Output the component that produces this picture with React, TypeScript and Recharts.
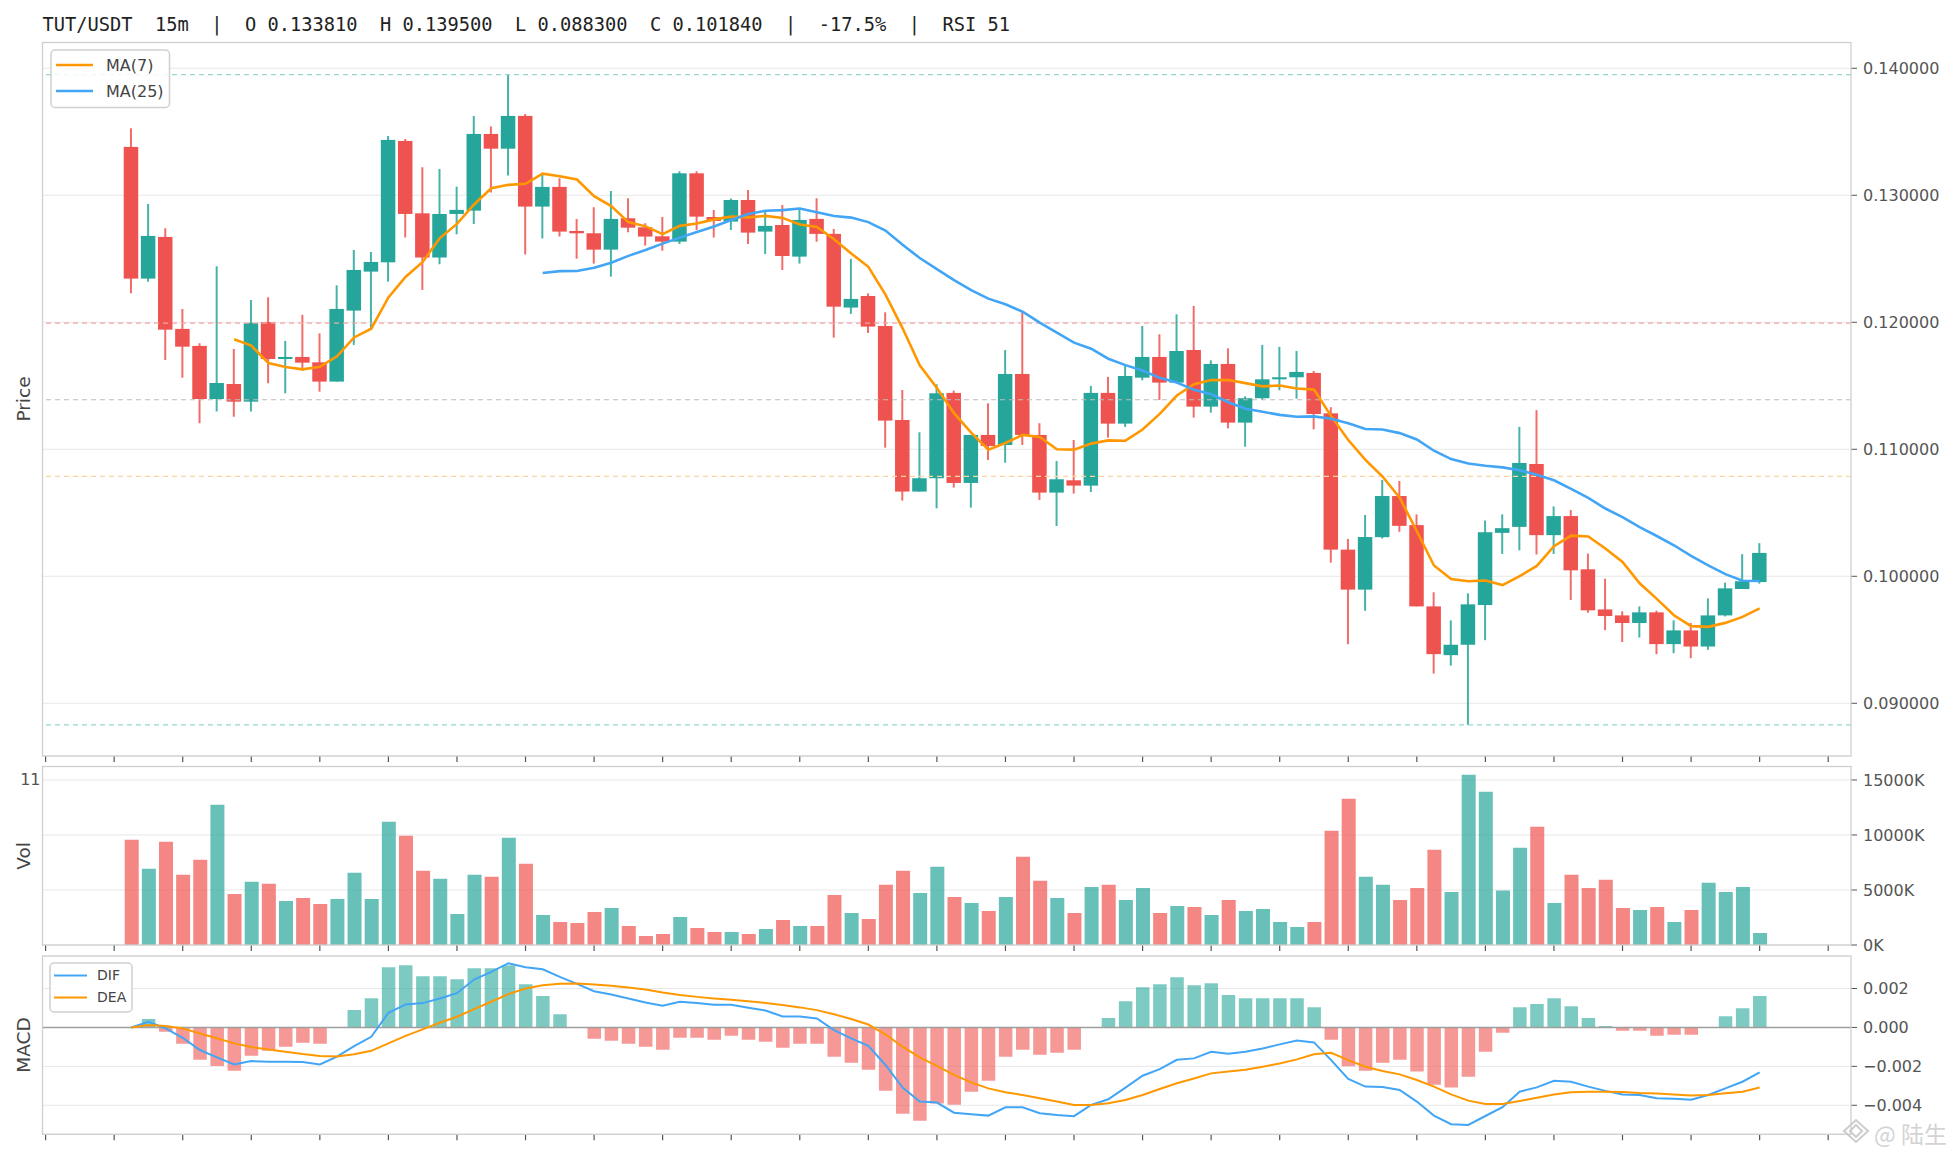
import React from "react";
import { Bar, CartesianGrid, Cell, ComposedChart, Line, ReferenceLine, XAxis, YAxis } from "recharts";

// TUT/USDT 15m candles
const opens = [
  0.13381, 0.12344, 0.12672, 0.11948, 0.11814, 0.11396, 0.11514, 0.11375, 0.12, 0.11711,
  0.11727, 0.11685, 0.11533, 0.12092, 0.12399, 0.12472, 0.13428, 0.12858, 0.1251, 0.12853,
  0.12879, 0.13483, 0.13367, 0.13625, 0.12911, 0.13066, 0.12719, 0.12701, 0.12572, 0.12819,
  0.12748, 0.12677, 0.12635, 0.13173, 0.12829, 0.12793, 0.12963, 0.12714, 0.12766, 0.12517,
  0.12814, 0.12696, 0.12116, 0.12207, 0.11971, 0.11231, 0.10667, 0.10772, 0.11444, 0.10735,
  0.11113, 0.11034, 0.11593, 0.11113, 0.10659, 0.10756, 0.10714, 0.11444, 0.11202, 0.11564,
  0.11727, 0.11525, 0.11782, 0.11336, 0.11672, 0.1121, 0.11402, 0.11551, 0.11567, 0.11601,
  0.11283, 0.1021, 0.09895, 0.10308, 0.10632, 0.10403, 0.09763, 0.09379, 0.09461, 0.09774,
  0.10342, 0.10389, 0.10884, 0.10324, 0.10474, 0.10055, 0.09739, 0.09692, 0.09632, 0.09716,
  0.09466, 0.09574, 0.09447, 0.09692, 0.099, 0.09955,
];
const highs = [
  0.13528, 0.12932, 0.1274, 0.12105, 0.11835, 0.12441, 0.1179, 0.12176, 0.12197, 0.11853,
  0.12058, 0.11913, 0.12291, 0.1257, 0.12554, 0.13467, 0.13444, 0.1322, 0.13207, 0.13068,
  0.13625, 0.13541, 0.1395, 0.1364, 0.13173, 0.13134, 0.12814, 0.12906, 0.13034, 0.12976,
  0.1278, 0.12829, 0.13189, 0.13189, 0.12885, 0.12974, 0.13042, 0.12885, 0.12924, 0.12892,
  0.12976, 0.12735, 0.12499, 0.12228, 0.12079, 0.11467, 0.11134, 0.11512, 0.11462, 0.11113,
  0.11362, 0.11782, 0.12076, 0.11205, 0.10908, 0.11073, 0.11499, 0.1157, 0.11669, 0.11971,
  0.11906, 0.12063, 0.12129, 0.11701, 0.11795, 0.11417, 0.11822, 0.11806, 0.11774, 0.11617,
  0.11331, 0.10294, 0.10483, 0.10758, 0.1075, 0.10487, 0.09874, 0.09653, 0.09866, 0.10439,
  0.10487, 0.11176, 0.11308, 0.1055, 0.10521, 0.10179, 0.09982, 0.09724, 0.09763, 0.09729,
  0.09653, 0.09632, 0.09826, 0.0995, 0.10174, 0.10261,
];
const lows = [
  0.12228, 0.1232, 0.11703, 0.11564, 0.11205, 0.11297, 0.11257, 0.11297, 0.1152, 0.11441,
  0.1162, 0.11454, 0.11533, 0.11822, 0.11953, 0.1232, 0.12667, 0.12255, 0.12457, 0.12693,
  0.12774, 0.13021, 0.13155, 0.12533, 0.12659, 0.12675, 0.12501, 0.12462, 0.1236, 0.12709,
  0.12604, 0.12564, 0.12617, 0.12727, 0.12667, 0.12727, 0.12617, 0.12538, 0.12412, 0.12462,
  0.12635, 0.11879, 0.12066, 0.11916, 0.11013, 0.10596, 0.10667, 0.10535, 0.10698, 0.10541,
  0.10916, 0.10895, 0.11034, 0.10601, 0.10396, 0.10651, 0.10664, 0.11092, 0.11176, 0.11543,
  0.11388, 0.11525, 0.11249, 0.11289, 0.11165, 0.11021, 0.11388, 0.11465, 0.11399, 0.11157,
  0.10108, 0.09465, 0.09728, 0.10297, 0.1035, 0.09763, 0.09234, 0.09297, 0.0883, 0.09497,
  0.10176, 0.10205, 0.10171, 0.10176, 0.09813, 0.09713, 0.09576, 0.09482, 0.09518, 0.09387,
  0.09395, 0.09355, 0.09421, 0.09684, 0.099, 0.09942,
];
const closes = [
  0.12344, 0.1268, 0.11942, 0.11808, 0.11396, 0.11522, 0.11375, 0.11995, 0.11711, 0.11727,
  0.11682, 0.11533, 0.12105, 0.12412, 0.12475, 0.13436, 0.12853, 0.1251, 0.12853, 0.12885,
  0.13483, 0.13367, 0.13625, 0.12911, 0.13066, 0.12714, 0.12701, 0.12572, 0.12814, 0.12745,
  0.12675, 0.12635, 0.13173, 0.12832, 0.12798, 0.12963, 0.12706, 0.12759, 0.12522, 0.12806,
  0.12696, 0.12123, 0.12184, 0.11966, 0.11226, 0.10667, 0.10772, 0.11441, 0.10735, 0.11113,
  0.11026, 0.11593, 0.11113, 0.10659, 0.10764, 0.10714, 0.11444, 0.11202, 0.11577, 0.11727,
  0.11525, 0.11774, 0.11336, 0.11672, 0.1121, 0.11402, 0.11551, 0.11567, 0.11609, 0.11278,
  0.1021, 0.09895, 0.10309, 0.10632, 0.10397, 0.09763, 0.09387, 0.09461, 0.09779, 0.10347,
  0.10379, 0.10892, 0.10324, 0.10474, 0.10047, 0.09732, 0.09687, 0.09632, 0.09716, 0.09466,
  0.09574, 0.09447, 0.09692, 0.09905, 0.09961, 0.10184,
];
// volume in K
const volumes = [
  9563, 6922, 9381, 6376, 7742, 12751, 4645, 5738, 5556, 4008,
  4281, 3734, 4190, 6558, 4190, 11203, 9928, 6740, 6011, 2823,
  6376, 6193, 9746, 7377, 2732, 2095, 2004, 3006, 3370, 1731,
  820, 1002, 2550, 1548, 1184, 1184, 1002, 1457, 2277, 1731,
  1731, 4554, 2915, 2368, 5465, 6740, 4736, 7104, 4372, 3825,
  3097, 4372, 8015, 5829, 4281, 2915, 5283, 5465, 4099, 5192,
  2915, 3552, 3461, 2732, 4099, 3097, 3279, 2095, 1639, 2095,
  10383, 13298, 6193, 5465, 4099, 5192, 8653, 4827, 15484, 13935,
  4949, 8835, 10747, 3825, 6376, 5192, 5920, 3370, 3188, 3461,
  2095, 3188, 5647, 4827, 5283, 1093,
];
const difs = [
  0, 0.00029, -0.00005, -0.00053, -0.00116, -0.00154, -0.0019, -0.00173, -0.00176, -0.00176,
  -0.00178, -0.0019, -0.0015, -0.00096, -0.00048, 0.00075, 0.00118, 0.00125, 0.00149, 0.00176,
  0.00246, 0.00285, 0.0033, 0.00309, 0.00299, 0.0026, 0.00224, 0.00186, 0.00169, 0.00149,
  0.00128, 0.00111, 0.00132, 0.00125, 0.00116, 0.00116, 0.00101, 0.00087, 0.00056, 0.00056,
  0.00046, -0.00014, -0.00056, -0.00094, -0.00193, -0.00309, -0.00381, -0.00386, -0.00438, -0.00446,
  -0.00453, -0.0041, -0.0041, -0.00441, -0.0045, -0.00456, -0.00398, -0.00369, -0.00309, -0.00248,
  -0.00214, -0.00166, -0.00159, -0.00125, -0.00135, -0.00125, -0.00108, -0.00087, -0.00067, -0.00077,
  -0.00168, -0.00265, -0.00304, -0.00306, -0.00321, -0.00381, -0.00453, -0.00497, -0.00501, -0.00455,
  -0.0041, -0.0033, -0.00308, -0.00274, -0.00279, -0.00304, -0.00326, -0.00344, -0.00347, -0.00364,
  -0.00366, -0.00371, -0.00347, -0.00313, -0.00279, -0.00231,
];
const deas = [
  0, 0.00012, 0.00007, -0.00005, -0.00031, -0.00056, -0.00082, -0.00101, -0.00113, -0.00125,
  -0.00137, -0.00147, -0.00149, -0.00138, -0.0012, -0.00082, -0.00043, -0.0001, 0.00024, 0.00055,
  0.00094, 0.00132, 0.00171, 0.002, 0.00217, 0.00224, 0.00226, 0.00221, 0.00214, 0.00205,
  0.00195, 0.00179, 0.00167, 0.00157, 0.00149, 0.00142, 0.00135, 0.00126, 0.00115, 0.00103,
  0.00089, 0.00068, 0.00043, 0.00015, -0.00036, -0.00099, -0.00154, -0.00198, -0.00244, -0.00282,
  -0.00313, -0.00333, -0.00347, -0.00364, -0.00381, -0.00398, -0.00398, -0.0039, -0.00373, -0.00347,
  -0.00316, -0.00287, -0.00262, -0.00236, -0.00226, -0.00217, -0.00202, -0.00185, -0.00164, -0.00138,
  -0.0013, -0.00168, -0.00202, -0.00224, -0.00241, -0.0027, -0.00304, -0.00344, -0.00376, -0.00393,
  -0.00393, -0.00378, -0.00361, -0.00344, -0.00333, -0.0033, -0.0033, -0.00332, -0.00337, -0.0034,
  -0.00345, -0.0035, -0.00347, -0.00338, -0.0033, -0.00309,
];
const hists = [
  0, 0.00043, -0.00022, -0.00084, -0.00166, -0.00198, -0.00222, -0.00145, -0.0012, -0.00099,
  -0.00079, -0.00084, -0.00002, 0.00089, 0.0015, 0.00309, 0.0032, 0.00263, 0.00263, 0.00248,
  0.00304, 0.00304, 0.0032, 0.00222, 0.00161, 0.00068, -0.00002, -0.00058, -0.00068, -0.00084,
  -0.00099, -0.00115, -0.00053, -0.00053, -0.00063, -0.00043, -0.00063, -0.00074, -0.00104, -0.00084,
  -0.00084, -0.0015, -0.00181, -0.00217, -0.00325, -0.00443, -0.00479, -0.00391, -0.00397, -0.0033,
  -0.00274, -0.0015, -0.00115, -0.0014, -0.0013, -0.00115, 0, 0.00048, 0.00135, 0.00207,
  0.00222, 0.00258, 0.00217, 0.00227, 0.00166, 0.0015, 0.0015, 0.0015, 0.0015, 0.00104,
  -0.00063, -0.002, -0.00222, -0.00181, -0.00166, -0.00227, -0.00294, -0.00309, -0.00253, -0.00125,
  -0.00027, 0.00104, 0.0012, 0.0015, 0.00109, 0.00048, 0.00007, -0.00017, -0.00017, -0.00043,
  -0.00038, -0.00038, 0, 0.00058, 0.00099, 0.00161,
];

const priceTicks = [0.09, 0.1, 0.11, 0.12, 0.13, 0.14];
const volTicks = [0, 5000, 10000, 15000];
const macdTicks = [-0.004, -0.002, 0, 0.002];
const timeTicks = [-5, -1, 3, 7, 11, 15, 19, 23, 27, 31, 35, 39, 43, 47, 51, 55, 59, 63, 67, 71, 75, 79, 83, 87, 91, 95, 99];
// fib retracement levels 0, .382, .5, .618, 1 between the high and low
const fibLevels = [0.1395, 0.11994, 0.1139, 0.10786, 0.0883];
const fibColors = ["#94d6cf", "#f6a6a6", "#bdbdbd", "#fbd6a0", "#94d6cf"];

const UP = "#26a69a";
const DOWN = "#ef5350";
const ORANGE = "#ff9800";
const BLUE = "#42a5f5";
const W = 1956;
const X_DOMAIN = [-5.18, 100.33];

const sma = (n: number) =>
  closes.map((_, i) => (i < n - 1 ? null : closes.slice(i - n + 1, i + 1).reduce((a, b) => a + b, 0) / n));
const ma7 = sma(7);
const ma25 = sma(25);

const data = opens.map((o, i) => ({
  i,
  o,
  h: highs[i],
  l: lows[i],
  c: closes[i],
  v: volumes[i],
  dif: difs[i],
  dea: deas[i],
  hist: hists[i],
  ma7: ma7[i],
  ma25: ma25[i],
}));

const tickStyle = { fontSize: 16, fill: "#555", fontFamily: "DejaVu Sans" };
const fmtSigned = (v: number, d: number) => (v < -1e-9 ? "\u2212" + Math.abs(v).toFixed(d) : Math.abs(v).toFixed(d));

const Candle = (props: any) => {
  const { x, y, width, height, payload } = props;
  const { o, h, l, c } = payload;
  const top = Math.min(y, y + height);
  const span = Math.abs(height);
  const k = span / (h - l);
  const py = (v: number) => top + (h - v) * k;
  const cx = x + width / 2;
  const color = c >= o ? UP : DOWN;
  const bt = py(Math.max(o, c));
  const bb = py(Math.min(o, c));
  return (
    <g>
      <line x1={cx} x2={cx} y1={top} y2={top + span} stroke={color} strokeOpacity={0.85} strokeWidth={2} />
      <rect x={x} y={bt} width={width} height={Math.max(bb - bt, 1.5)} fill={color} />
    </g>
  );
};

const timeAxis = (
  <XAxis
    dataKey="i"
    type="number"
    domain={X_DOMAIN}
    allowDataOverflow
    ticks={timeTicks}
    tickFormatter={() => ""}
    tick={{ fontSize: 1 }}
    tickSize={6}
    tickLine={{ stroke: "#555", strokeWidth: 1.2 }}
    axisLine={false}
    height={10}
  />
);

const App = () => {
  return (
    <div style={{ position: "relative", width: W, height: 1156, background: "#fff" }}>
      <style>{`body{margin:0;}`}</style>

      <div style={{ position: "absolute", left: 0, top: 0 }}>
        <ComposedChart width={W} height={766} data={data} margin={{ top: 42.5, right: 0, bottom: 0, left: 42.5 }}>
          <CartesianGrid vertical={false} stroke="#e8e8e8" />
          {timeAxis}
          <YAxis
            orientation="right"
            width={105}
            domain={[0.08585, 0.14203]}
            allowDataOverflow
            ticks={priceTicks}
            tickFormatter={(v: number) => v.toFixed(6)}
            tick={tickStyle}
            tickSize={6}
            tickMargin={6}
            tickLine={{ stroke: "#555" }}
            axisLine={false}
          />
          {fibLevels.map((f, k) => (
            <ReferenceLine key={f} y={f} stroke={fibColors[k]} strokeDasharray="5 4" strokeWidth={1.2} />
          ))}
          <Bar dataKey={(d: any) => [d.l, d.h]} barSize={14.5} shape={<Candle />} isAnimationActive={false} />
          <Line dataKey="ma7" stroke={ORANGE} strokeWidth={2.6} dot={false} isAnimationActive={false} />
          <Line dataKey="ma25" stroke={BLUE} strokeWidth={2.6} dot={false} isAnimationActive={false} />
        </ComposedChart>
      </div>

      <div style={{ position: "absolute", left: 0, top: 766 }}>
        <ComposedChart width={W} height={189} data={data} margin={{ top: 0, right: 0, bottom: 0, left: 42.5 }}>
          <CartesianGrid vertical={false} stroke="#e8e8e8" />
          {timeAxis}
          <YAxis
            orientation="right"
            width={105}
            domain={[0, 16270]}
            allowDataOverflow
            ticks={volTicks}
            tickFormatter={(v: number) => `${v}K`}
            tick={tickStyle}
            tickSize={6}
            tickMargin={6}
            tickLine={{ stroke: "#555" }}
            axisLine={false}
          />
          <Bar dataKey="v" barSize={14} isAnimationActive={false}>
            {data.map((d) => (
              <Cell key={d.i} fill={d.c >= d.o ? UP : DOWN} fillOpacity={0.7} />
            ))}
          </Bar>
        </ComposedChart>
      </div>

      <div style={{ position: "absolute", left: 0, top: 956 }}>
        <ComposedChart width={W} height={188.3} data={data} margin={{ top: 0, right: 0, bottom: 0, left: 42.5 }}>
          <CartesianGrid vertical={false} stroke="#e8e8e8" />
          {timeAxis}
          <YAxis
            orientation="right"
            width={105}
            domain={[-0.00549, 0.00367]}
            allowDataOverflow
            ticks={macdTicks}
            tickFormatter={(v: number) => fmtSigned(v, 3)}
            tick={tickStyle}
            tickSize={6}
            tickMargin={6}
            tickLine={{ stroke: "#555" }}
            axisLine={false}
          />
          <Bar dataKey="hist" barSize={13.5} isAnimationActive={false}>
            {data.map((d) => (
              <Cell key={d.i} fill={d.hist >= 0 ? UP : DOWN} fillOpacity={0.6} />
            ))}
          </Bar>
          <ReferenceLine y={0} stroke="#9e9e9e" strokeWidth={1.4} />
          <Line dataKey="dif" stroke={BLUE} strokeWidth={2} dot={false} isAnimationActive={false} />
          <Line dataKey="dea" stroke={ORANGE} strokeWidth={2} dot={false} isAnimationActive={false} />
        </ComposedChart>
      </div>

      <svg width={W} height={1156} style={{ position: "absolute", left: 0, top: 0, pointerEvents: "none" }}>
        <text x={42.5} y={31} fontFamily="DejaVu Sans Mono" fontSize={18.7} fill="#222" style={{ whiteSpace: "pre" }}>
          {"TUT/USDT  15m  |  O 0.133810  H 0.139500  L 0.088300  C 0.101840  |  -17.5%  |  RSI 51"}
        </text>

        <g fill="none" stroke="#cfcfcf" strokeWidth={1.3}>
          <rect x={42.5} y={42.5} width={1808.5} height={713.5} />
          <rect x={42.5} y={766.5} width={1808.5} height={178.5} />
          <rect x={42.5} y={956} width={1808.5} height={178.3} />
        </g>

        <g fontFamily="DejaVu Sans" fontSize={18.5} fill="#444" textAnchor="middle">
          <text transform="translate(30,399) rotate(-90)">Price</text>
          <text transform="translate(30,856) rotate(-90)">Vol</text>
          <text transform="translate(30,1045) rotate(-90)">MACD</text>
        </g>
        <text x={40.5} y={785} fontFamily="DejaVu Sans" fontSize={16} fill="#555" textAnchor="end">11</text>

        <g fontFamily="DejaVu Sans">
          <rect x={51} y={50} width={118.5} height={57.5} rx={4} fill="#fff" fillOpacity={0.85} stroke="#d0d0d0" strokeWidth={1.5} />
          <line x1={56} x2={93} y1={65} y2={65} stroke={ORANGE} strokeWidth={2.6} />
          <text x={106} y={65} dy="0.35em" fontSize={16} fill="#444">MA(7)</text>
          <line x1={56} x2={93} y1={91} y2={91} stroke={BLUE} strokeWidth={2.6} />
          <text x={106} y={91} dy="0.35em" fontSize={16} fill="#444">MA(25)</text>

          <rect x={50} y={963} width={82} height={49} rx={4} fill="#fff" fillOpacity={0.85} stroke="#d0d0d0" strokeWidth={1.5} />
          <line x1={54} x2={87} y1={975.5} y2={975.5} stroke={BLUE} strokeWidth={2} />
          <text x={97} y={975.5} dy="0.35em" fontSize={14} fill="#444">DIF</text>
          <line x1={54} x2={87} y1={997.5} y2={997.5} stroke={ORANGE} strokeWidth={2} />
          <text x={97} y={997.5} dy="0.35em" fontSize={14} fill="#444">DEA</text>
        </g>

        <g opacity={0.9}>
          <path d="M1844 1131 L1856 1120 L1868 1131 L1856 1142 Z M1850 1131 L1856 1125 L1862 1131 L1856 1137 Z" fill="none" stroke="#c8c8c8" strokeWidth={2} />
          <text x={1874} y={1143} fontFamily="Noto Sans CJK SC" fontSize={23} fill="#cfcfcf">@ 陆生</text>
        </g>
      </svg>
    </div>
  );
};

export default App;
